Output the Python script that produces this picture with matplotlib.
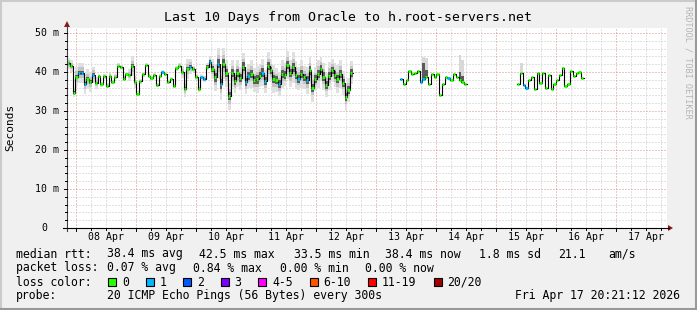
import numpy as np
import matplotlib
matplotlib.use("Agg")
import matplotlib.pyplot as plt
from matplotlib.patches import Rectangle, Polygon
from matplotlib.lines import Line2D

# ---- data (hours since graph start = Tue Apr 07 20:21:12) ----
graph_hours = 240.0
midnight0 = 3.647          # first midnight (08 Apr 00:00) in hours from start
day_labels = ["08 Apr", "09 Apr", "10 Apr", "11 Apr", "12 Apr",
              "13 Apr", "14 Apr", "15 Apr", "16 Apr", "17 Apr"]

# segments of data: (start h, end h)
seg_spans = [(0.0, 114.4), (133.2, 160.0), (180.0, 206.8)]

seg1_rtt = [42.2, 41.6, 34.7, 38.8, 39.8, 39.8, 36.9, 38.2, 37.4, 39.3,
            37.2, 39.0, 36.8, 38.9, 36.5, 39.1, 37.4, 38.8, 41.6, 41.2,
            38.3, 39.5, 39.2, 41.5, 37.4, 34.4, 37.6, 39.4, 41.8, 39.1,
            38.4, 39.2, 36.7, 39.0, 40.0, 39.5, 37.4, 38.2, 36.4, 40.9,
            41.6, 40.0, 35.7, 40.8, 41.4, 40.8, 38.8, 35.6, 38.6, 38.2,
            41.4, 42.6, 40.8, 38.6, 42.1, 36.9, 42.1, 39.7, 33.8, 39.7,
            37.6, 39.7, 38.4, 41.4, 37.4, 39.0, 39.5, 37.9, 38.1, 39.1,
            39.8, 37.6, 41.5, 40.4, 38.2, 37.9, 36.9, 39.5, 39.3, 41.8,
            39.7, 41.2, 39.2, 38.3, 39.5, 38.6, 37.9, 40.4, 35.9, 38.2,
            39.5, 40.8, 38.8, 36.7, 39.0, 40.4, 39.2, 38.2, 39.5, 37.2,
            33.6, 35.4, 39.8]
seg1_loss = [0, 0, 0, 0, 1, 1, 1, 0, 0, 1,
             0, 0, 0, 0, 0, 0, 0, 0, 0, 0,
             0, 0, 0, 0, 0, 0, 0, 0, 0, 0,
             0, 0, 0, 0, 1, 0, 0, 0, 0, 0,
             0, 0, 0, 0, 1, 0, 0, 0, 1, 1,
             0, 1, 0, 0, 1, 1, 0, 0, 0, 0,
             0, 0, 0, 0, 1, 1, 0, 0, 0, 0,
             1, 1, 0, 0, 0, 0, 1, 0, 0, 0,
             0, 0, 0, 1, 0, 0, 1, 0, 0, 0,
             0, 0, 0, 0, 0, 0, 0, 0, 0, 0,
             0, 0, 0]
# light smoke half-width (ms)
seg1_smoke = [1.5, 1.5, 1.0, 2.5, 2.5, 2.5, 2.5, 2.5, 2.5, 2.0,
              1.5, 0.6, 0.6, 0.6, 0.6, 0.6, 0.6, 0.6, 0.6, 0.6,
              0.6, 0.6, 1.5, 2.5, 1.5, 0.6, 0.6, 0.6, 0.6, 0.6,
              0.6, 0.6, 0.6, 0.6, 0.6, 0.6, 0.6, 0.6, 0.6, 0.6,
              0.6, 1.5, 2.0, 2.5, 2.0, 0.8, 0.8, 0.8, 0.8, 0.8,
              0.8, 1.5, 2.5, 3.5, 4.0, 4.0, 4.0, 3.5, 3.5, 3.5,
              3.0, 3.5, 3.0, 3.5, 3.0, 3.0, 3.5, 3.0, 3.5, 3.0,
              3.5, 3.0, 3.5, 3.0, 3.5, 3.0, 3.0, 3.5, 3.0, 3.5,
              3.5, 4.0, 3.5, 3.0, 3.5, 3.0, 3.5, 3.5, 3.5, 3.0,
              3.5, 3.0, 3.5, 3.0, 3.5, 3.0, 3.0, 3.5, 3.5, 3.0,
              3.5, 3.0, 3.0]
# dark smoke half-width (ms)
seg1_core = [0.3, 0.3, 0.3, 0.5, 0.5, 0.5, 0.5, 0.5, 0.5, 0.4,
             0.3, 0.0, 0.0, 0.0, 0.0, 0.0, 0.0, 0.0, 0.0, 0.0,
             0.0, 0.0, 0.3, 0.5, 0.3, 0.0, 0.0, 0.0, 0.0, 0.0,
             0.0, 0.0, 0.0, 0.0, 0.0, 0.0, 0.0, 0.0, 0.0, 0.0,
             0.0, 0.3, 0.4, 0.5, 0.4, 0.2, 0.2, 0.2, 0.2, 0.2,
             0.3, 0.5, 0.8, 1.1, 1.2, 1.2, 1.2, 1.1, 1.1, 1.1,
             1.0, 1.1, 1.0, 1.1, 1.0, 1.0, 1.1, 1.0, 1.1, 1.0,
             1.1, 1.0, 1.1, 1.0, 1.1, 1.0, 1.0, 1.1, 1.0, 1.1,
             1.1, 1.2, 1.1, 1.0, 1.1, 1.0, 1.1, 1.1, 1.1, 1.0,
             1.1, 1.0, 1.1, 1.0, 1.1, 1.0, 1.0, 1.1, 1.1, 1.0,
             1.1, 1.0, 1.0]

seg2_rtt = [38.3, 36.9, 37.9, 40.3, 39.5, 39.8, 40.3, 37.4, 38.3, 38.8,
            36.8, 39.5, 38.8, 39.5, 34.2, 36.9, 38.8, 38.4, 37.9, 39.5,
            38.8, 37.9, 37.5, 36.9]
seg2_loss = [1, 0, 0, 0, 0, 0, 0, 1, 1, 0,
             0, 0, 0, 0, 0, 0, 0, 1, 0, 0,
             0, 0, 0, 0]
# (index, top of light smoke, top of dark smoke)
seg2_spikes = [(8, 43.9, 42.3), (9, 43.5, 40.5), (21, 44.4, 40.0), (22, 43.0, 39.0)]

seg3_rtt = [36.9, 39.8, 36.6, 36.0, 38.0, 38.6, 35.7, 39.8, 37.1, 39.8,
            35.9, 39.3, 35.6, 36.9, 38.0, 39.2, 41.1, 36.4, 36.9, 40.3,
            39.1, 39.8, 40.1, 38.4]
seg3_loss = [0, 0, 1, 1, 0, 0, 0, 0, 0, 0,
             0, 0, 0, 0, 0, 0, 0, 0, 0, 0,
             0, 0, 0, 0]
seg3_spikes = [(1, 42.4, 39.8)]

loss_labels = ["0", "1", "2", "3", "4-5", "6-10", "11-19", "20/20"]
loss_colors = ["#26ff00", "#00b8ff", "#0059ff", "#7e00ff",
               "#ff00ff", "#ff5500", "#ff0000", "#a00000"]

rtt_items = ["median rtt:", "38.4 ms avg", "42.5 ms max", "33.5 ms min",
             "38.4 ms now", "1.8 ms sd", "21.1", "am/s"]
loss_items = ["packet loss:", "0.07 % avg", "0.84 % max", "0.00 % min", "0.00 % now"]
probe_line = "probe:       20 ICMP Echo Pings (56 Bytes) every 300s"
stamp = "Fri Apr 17 20:21:12 2026"
title = "Last 10 Days from Oracle to h.root-servers.net"

# ---- figure ----
W, H = 697, 310
MONO = "DejaVu Sans Mono"
fig = plt.figure(figsize=(W / 100, H / 100), dpi=100, facecolor="#f0f0f0")

def fx(px):
    return px / W

def fy(py):
    return 1 - py / H

x0, x1, ytop, ybot = 67, 667, 28, 228
ymax = 51.28
ax = fig.add_axes([fx(x0), fy(ybot), fx(x1) - fx(x0), fy(ytop) - fy(ybot)])
ax.set_facecolor("white")
ax.set_xlim(0, graph_hours)
ax.set_ylim(0, ymax)
for s in ax.spines.values():
    s.set_visible(False)
ax.set_xticks([])
ax.set_yticks([])

# grid
dot = (0, (1, 2))
minor_v = midnight0 + 6 * np.arange(40)
major_v = midnight0 + 24 * np.arange(10)
for h in minor_v:
    if h not in major_v:
        ax.axvline(h, color="#c4c4c4", lw=0.72, ls=dot, zorder=0)
for v in np.arange(2, 51, 2):
    if v % 10:
        ax.axhline(v, color="#c4c4c4", lw=0.72, ls=dot, zorder=0)
for h in major_v:
    ax.axvline(h, color="#e08a8a", lw=0.72, ls=dot, zorder=0.5)
for v in [10, 20, 30, 40, 50]:
    ax.axhline(v, color="#e08a8a", lw=0.72, ls=dot, zorder=0.5)

# data
segments = [
    (seg1_rtt, seg1_loss, seg1_smoke, seg1_core, None),
    (seg2_rtt, seg2_loss, None, None, seg2_spikes),
    (seg3_rtt, seg3_loss, None, None, seg3_spikes),
]
for (t0, t1), (rtt, loss, smoke, core, spikes) in zip(seg_spans, segments):
    rtt = np.array(rtt)
    n = len(rtt)
    edges = np.linspace(t0, t1, n + 1)
    tt = np.append(edges[:-1], edges[-1])
    yy = np.append(rtt, rtt[-1])
    if smoke is not None:
        sm = np.append(smoke, smoke[-1])
        co = np.append(core, core[-1])
        ax.fill_between(tt, yy - sm, yy + sm, step="post", color="#e0e0e0", lw=0, zorder=1)
        ax.fill_between(tt, yy - 0.55 * sm, yy + 0.55 * sm, step="post", color="#c4c4c4", lw=0, zorder=1.1)
        ax.fill_between(tt, yy - co, yy + co, step="post", color="#5c5c5c", lw=0, zorder=1.2)
    if spikes is not None:
        for i, top_light, top_dark in spikes:
            ax.fill_between([edges[i], edges[i + 1]], rtt[i], top_light, color="#d8d8d8", lw=0, zorder=1)
            if top_dark > rtt[i]:
                ax.fill_between([edges[i], edges[i + 1]], rtt[i], top_dark, color="#5a5a5a", lw=0, zorder=1.1)
    ax.plot(tt, yy, drawstyle="steps-post", color="black", lw=0.8, zorder=2)
    for i in range(n):
        ax.plot([edges[i], edges[i] + 0.9], [rtt[i], rtt[i]], color=loss_colors[loss[i]],
                lw=2.1, solid_capstyle="butt", zorder=3)

# axes lines, ticks, arrows (pixel coordinates on figure)
def fline(xs, ys, **kw):
    fig.add_artist(Line2D([fx(x) for x in xs], [fy(y) for y in ys], **kw))

fline([63, 669], [ybot, ybot], color="black", lw=0.8)
fline([x0, x0], [ybot + 3, 26], color="#404040", lw=0.8)
fig.add_artist(Polygon([(fx(668), fy(ybot - 3)), (fx(673), fy(ybot)), (fx(668), fy(ybot + 3))],
                       closed=True, color="#8b1a1a", lw=0))
fig.add_artist(Polygon([(fx(x0 - 3), fy(27)), (fx(x0), fy(21)), (fx(x0 + 3), fy(27))],
                       closed=True, color="#8b1a1a", lw=0))
for h in minor_v:
    px = x0 + h * (x1 - x0) / graph_hours
    ln = 3 if h in major_v else 2
    fline([px, px], [ybot, ybot + ln], color="black", lw=0.7)
for v in range(0, 51, 2):
    py = ybot - v * (ybot - ytop) / ymax
    ln = 3 if v % 10 == 0 else 2
    fline([x0 - ln, x0], [py, py], color="black", lw=0.7)

# tick labels
for i, lbl in enumerate(day_labels):
    h = midnight0 + 12 + 24 * i
    px = x0 + h * (x1 - x0) / graph_hours
    fig.text(fx(px), fy(237.5), lbl, family=MONO, fontsize=7.1, ha="center", va="center")
for v in [10, 20, 30, 40, 50]:
    py = ybot - v * (ybot - ytop) / ymax
    fig.text(fx(59), fy(py), "%d m" % v, family=MONO, fontsize=7.1, ha="right", va="center")
fig.text(fx(47), fy(ybot), "0", family=MONO, fontsize=7.1, ha="right", va="center")

# titles
fig.text(fx(348), fy(18), title, family=MONO, fontsize=9.5, ha="center", va="center")
fig.text(fx(10), fy(127), "Seconds", family=MONO, fontsize=8, rotation=90, ha="center", va="center")
fig.text(fx(688), fy(6), "RRDTOOL / TOBI OETIKER", family=MONO, fontsize=6.1, rotation=-90,
         ha="center", va="top", color="#b4b4b4")

# legend
LF = 8.3
for px, s in zip([16, 107, 199, 293.5, 385, 479, 558, 608], rtt_items):
    fig.text(fx(px), fy(254), s, family=MONO, fontsize=LF, ha="left", va="center")
for px, s in zip([16, 107, 193, 280, 365], loss_items):
    fig.text(fx(px), fy(268), s, family=MONO, fontsize=LF, ha="left", va="center")
fig.text(fx(16), fy(282), "loss color:", family=MONO, fontsize=LF, ha="left", va="center")
bx = 108
for lbl, col in zip(loss_labels, loss_colors):
    fig.add_artist(Rectangle((fx(bx), fy(286)), fx(8), 8 / H, facecolor=col,
                             edgecolor="black", lw=0.8))
    fig.text(fx(bx + 14), fy(282), lbl, family=MONO, fontsize=LF, ha="left", va="center")
    bx += 37.5 + 7.0 * (len(lbl) - 1)
fig.text(fx(16), fy(296), "probe:", family=MONO, fontsize=LF, ha="left", va="center")
fig.text(fx(107), fy(296), probe_line.split(":", 1)[1].strip(), family=MONO, fontsize=LF,
         ha="left", va="center")
fig.text(fx(680), fy(296), stamp, family=MONO, fontsize=LF, ha="right", va="center")

# 3d frame
fline([0.5, W - 0.5], [0.8, 0.8], color="#cbcbcb", lw=1.5)
fline([0.8, 0.8], [0.5, H - 0.5], color="#cbcbcb", lw=1.5)
fline([0.5, W - 0.5], [H - 0.8, H - 0.8], color="#999999", lw=1.5)
fline([W - 0.8, W - 0.8], [0.5, H - 0.5], color="#999999", lw=1.5)

fig.savefig("out.png", dpi=100, facecolor=fig.get_facecolor())
